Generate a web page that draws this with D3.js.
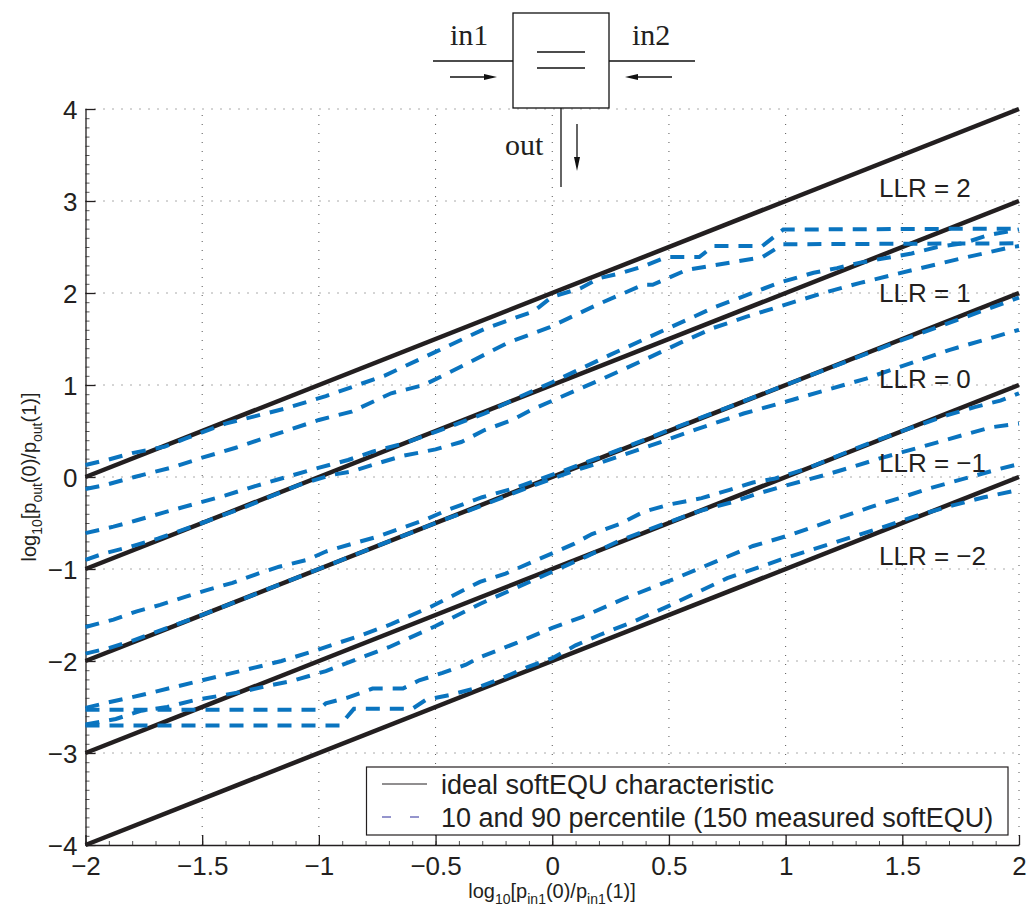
<!DOCTYPE html>
<html>
<head>
<meta charset="utf-8">
<script src="https://cdn.jsdelivr.net/npm/d3@7"></script>
<style>
  body { margin: 0; background: #fff; }
  svg { display: block; }
  text { font-family: "Liberation Sans", Arial, sans-serif; fill: #231f20; }
</style>
</head>
<body>
<div id="chart"></div>
<script>
// ---- data ----
const xTicks = [-2, -1.5, -1, -0.5, 0, 0.5, 1, 1.5, 2];
const yTicks = [-4, -3, -2, -1, 0, 1, 2, 3, 4];
const llrValues = [2, 1, 0, -1, -2];
const llrLabelY = [3.04, 1.9, 0.97, 0.05, -0.96];   // baseline of each "LLR = c" label (data units)
const llrLabelX = 1.4;
// ideal softEQU characteristic, y at x = -2 and x = 2
const idealX = [-2, 2];
const idealY = [[0, 4], [-1, 3], [-2, 2], [-3, 1], [-4, 0]];

// measured 10 / 90 percentile curves, [x, y]
const pctLLR2hi = [[-2,0.13],[-1.9,0.19],[-1.8,0.26],[-1.66,0.33],[-1.57,0.42],[-1.4,0.58],[-1.15,0.74],[-0.97,0.88],[-0.72,1.1],[-0.5,1.36],[-0.29,1.61],[-0.16,1.73],[-0.08,1.8],[0,1.96],[0.12,2.05],[0.2,2.16],[0.3,2.22],[0.39,2.29],[0.49,2.39],[0.63,2.39],[0.69,2.51],[0.9,2.51],[0.99,2.69],[2,2.7]];
const pctLLR2lo = [[-2,-0.13],[-1.92,-0.09],[-1.79,0.0],[-1.62,0.11],[-1.5,0.21],[-1.36,0.315],[-1.19,0.46],[-1.0,0.62],[-0.86,0.71],[-0.69,0.91],[-0.55,1.0],[-0.375,1.22],[-0.19,1.46],[-0.01,1.63],[0.19,1.87],[0.39,2.09],[0.43,2.09],[0.575,2.25],[0.69,2.3],[0.9,2.39],[0.99,2.53],[2,2.54]];
const pctLLR1hi = [[-2,-0.61],[-1.88,-0.54],[-1.78,-0.47],[-1.67,-0.39],[-1.5,-0.27],[-1.4,-0.2],[-1.3,-0.12],[-1.18,-0.03],[-1.03,0.08],[-0.875,0.185],[-0.77,0.275],[-0.63,0.37],[-0.5,0.49],[-0.29,0.69],[-0.15,0.86],[0,1.03],[0.25,1.33],[0.5,1.62],[0.7,1.85],[0.8,1.945],[0.97,2.11],[1.12,2.22],[1.22,2.27],[1.32,2.33],[1.43,2.38],[1.54,2.43],[1.65,2.5],[1.76,2.54],[1.87,2.63],[2,2.69]];
const pctLLR1lo = [[-2,-0.9],[-1.92,-0.83],[-1.81,-0.76],[-1.69,-0.67],[-1.5,-0.5],[-1.31,-0.32],[-1.09,-0.09],[-0.95,0.02],[-0.86,0.06],[-0.76,0.14],[-0.64,0.23],[-0.5,0.3],[-0.39,0.38],[-0.29,0.51],[-0.17,0.62],[-0.09,0.73],[0.2,1.05],[0.4,1.28],[0.55,1.46],[0.69,1.62],[0.83,1.74],[1.02,1.89],[1.16,2.0],[1.32,2.11],[1.545,2.25],[1.76,2.38],[1.97,2.5],[2,2.51]];
const pctLLR0hi = [[-2,-1.63],[-1.88,-1.55],[-1.78,-1.46],[-1.68,-1.39],[-1.57,-1.3],[-1.48,-1.23],[-1.37,-1.15],[-1.25,-1.04],[-1.17,-0.975],[-1.05,-0.9],[-0.97,-0.81],[-0.85,-0.72],[-0.75,-0.65],[-0.64,-0.55],[-0.55,-0.47],[-0.45,-0.36],[-0.3,-0.22],[-0.16,-0.12],[0.05,0.07],[0.2,0.21],[0.5,0.51],[1,1.0],[1.5,1.49],[2,1.95]];
const pctLLR0lo = [[-2,-1.92],[-1.9,-1.86],[-1.8,-1.78],[-1.5,-1.5],[-1.0,-1.0],[-0.5,-0.5],[-0.3,-0.31],[-0.09,-0.1],[0.12,0.09],[0.2,0.15],[0.42,0.34],[0.62,0.52],[0.82,0.69],[1.03,0.84],[1.345,1.07],[1.7,1.38],[2,1.6]];
const pctLLRm1hi = [[-2,-2.51],[-1.92,-2.46],[-1.76,-2.37],[-1.5,-2.21],[-1.32,-2.1],[-1.16,-2.0],[-1.02,-1.89],[-0.83,-1.73],[-0.69,-1.6],[-0.52,-1.41],[-0.31,-1.14],[-0.2,-1.05],[0.09,-0.73],[0.17,-0.62],[0.29,-0.51],[0.39,-0.38],[0.5,-0.3],[0.64,-0.23],[0.76,-0.14],[0.86,-0.06],[0.95,-0.02],[1.09,0.09],[1.31,0.32],[1.5,0.5],[1.69,0.67],[1.81,0.76],[1.92,0.83],[2,0.91]];
const pctLLRm1lo = [[-2,-2.69],[-1.87,-2.63],[-1.76,-2.54],[-1.65,-2.5],[-1.54,-2.43],[-1.43,-2.38],[-1.32,-2.33],[-1.22,-2.27],[-1.12,-2.22],[-0.97,-2.11],[-0.8,-1.945],[-0.7,-1.85],[-0.5,-1.62],[-0.31,-1.38],[0,-1.03],[0.15,-0.86],[0.29,-0.69],[0.5,-0.49],[0.63,-0.37],[0.77,-0.275],[0.875,-0.185],[0.99,-0.1],[1.18,0.03],[1.3,0.12],[1.4,0.2],[1.5,0.27],[1.67,0.39],[1.78,0.47],[1.88,0.54],[2,0.58]];
const pctLLRm2hi = [[-2,-2.53],[-1.0,-2.53],[-0.97,-2.46],[-0.88,-2.4],[-0.77,-2.3],[-0.64,-2.3],[-0.57,-2.21],[-0.47,-2.13],[-0.37,-2.04],[-0.31,-1.96],[-0.15,-1.8],[0,-1.64],[0.13,-1.52],[0.3,-1.33],[0.53,-1.1],[0.7,-0.92],[0.86,-0.75],[1.02,-0.63],[1.2,-0.47],[1.36,-0.33],[1.5,-0.22],[1.62,-0.12],[1.79,0.0],[1.92,0.09],[2,0.14]];
const pctLLRm2lo = [[-2,-2.7],[-0.91,-2.7],[-0.85,-2.52],[-0.6,-2.52],[-0.54,-2.42],[-0.44,-2.37],[-0.32,-2.29],[-0.2,-2.17],[-0.1,-2.06],[0,-1.97],[0.1,-1.83],[0.2,-1.72],[0.35,-1.57],[0.5,-1.4],[0.6,-1.28],[0.75,-1.1],[1.0,-0.88],[1.2,-0.72],[1.4,-0.56],[1.55,-0.43],[1.7,-0.32],[1.85,-0.22],[2,-0.14]];
const pctCurves = [pctLLR2hi, pctLLR2lo, pctLLR1hi, pctLLR1lo, pctLLR0hi, pctLLR0lo,
                   pctLLRm1hi, pctLLRm1lo, pctLLRm2hi, pctLLRm2lo];

const legendItems = ["ideal softEQU characteristic", "10 and 90 percentile (150 measured softEQU)"];

// ---- layout ----
const W = 1029, H = 906;
const x = d3.scaleLinear().domain([-2, 2]).range([85.5, 1019]);
const y = d3.scaleLinear().domain([-4, 4]).range([845, 109]);
const ink = "#231f20", blue = "#0a74bf";
const fmt = d => String(d).replace("-", "\u2212");

const svg = d3.select("#chart").append("svg")
    .attr("width", W).attr("height", H)
    .attr("viewBox", [0, 0, W, H]);

// grid
const grid = svg.append("g").attr("stroke", "#555").attr("stroke-width", 1)
    .attr("stroke-dasharray", "1,8");
grid.selectAll("line.gx").data(xTicks.slice(1)).join("line")
    .attr("x1", d => x(d)).attr("x2", d => x(d))
    .attr("y1", y(-4)).attr("y2", y(4));
grid.selectAll("line.gy").data(yTicks.slice(1)).join("line")
    .attr("y1", d => y(d)).attr("y2", d => y(d))
    .attr("x1", x(-2)).attr("x2", x(2));

// minor ticks
const xMinor = d3.range(-2, 2.001, 0.1).map(v => +v.toFixed(2));
const yMinor = d3.range(-4, 4.001, 0.1).map(v => +v.toFixed(2));
svg.append("g").attr("transform", `translate(0,${y(-4)})`)
    .call(d3.axisBottom(x).tickValues(xMinor).tickSize(-4).tickFormat(""))
    .call(g => g.select(".domain").remove())
    .call(g => g.selectAll("line").attr("stroke", "#555"));
svg.append("g").attr("transform", `translate(${x(-2)},0)`)
    .call(d3.axisLeft(y).tickValues(yMinor).tickSize(-4).tickFormat(""))
    .call(g => g.select(".domain").remove())
    .call(g => g.selectAll("line").attr("stroke", "#555"));

// major axes
const xAxis = svg.append("g").attr("transform", `translate(0,${y(-4)})`)
    .call(d3.axisBottom(x).tickValues(xTicks).tickSize(-10).tickSizeOuter(0).tickPadding(12).tickFormat(fmt));
const yAxis = svg.append("g").attr("transform", `translate(${x(-2)},0)`)
    .call(d3.axisLeft(y).tickValues(yTicks).tickSize(-10).tickSizeOuter(0).tickPadding(8).tickFormat(fmt));
[xAxis, yAxis].forEach(g => {
  g.select(".domain").attr("stroke", ink).attr("stroke-width", 1.3);
  g.selectAll(".tick line").attr("stroke", ink).attr("stroke-width", 1.3);
  g.selectAll(".tick text").attr("fill", ink).style("font-size", "26px")
    .style("font-family", '"Liberation Sans", Arial, sans-serif');
});
xAxis.selectAll(".tick text").attr("dy", "0.71em");
yAxis.selectAll(".tick text").attr("dy", "0.36em");

// ideal lines
const line = d3.line().x(d => x(d[0])).y(d => y(d[1]));
svg.append("g").selectAll("path").data(idealY).join("path")
    .attr("d", d => line(idealX.map((xv, i) => [xv, d[i]])))
    .attr("fill", "none").attr("stroke", ink).attr("stroke-width", 4.5);

// percentile curves
svg.append("g").selectAll("path").data(pctCurves).join("path")
    .attr("d", line)
    .attr("fill", "none").attr("stroke", blue).attr("stroke-width", 4)
    .attr("stroke-dasharray", "14,10");

// LLR labels
svg.append("g").selectAll("text").data(llrValues).join("text")
    .attr("x", x(llrLabelX)).attr("y", (d, i) => y(llrLabelY[i]))
    .style("font-size", "26px")
    .text(d => "LLR = " + fmt(d));

// legend
const lg = svg.append("g");
lg.append("rect").attr("x", 366.5).attr("y", 767).attr("width", 641.5).attr("height", 68)
    .attr("fill", "#fff").attr("stroke", ink).attr("stroke-width", 1.2);
legendItems.forEach((t, i) => {
  const ly = 784 + i * 33;
  lg.append("line").attr("x1", 382).attr("x2", i ? 420 : 427).attr("y1", ly).attr("y2", ly)
    .attr("stroke", i ? "#2b2b9a" : ink).attr("stroke-width", 1)
    .attr("stroke-dasharray", i ? "9,19" : null);
  lg.append("text").attr("x", 441).attr("y", ly).attr("dy", "0.36em")
    .style("font-size", "27px").text(t);
});

// axis titles
const xt = svg.append("text").attr("x", 552).attr("y", 898)
    .attr("text-anchor", "middle").style("font-size", "20px");
xt.append("tspan").text("log");
xt.append("tspan").attr("dy", 6).style("font-size", "14px").text("10");
xt.append("tspan").attr("dy", -6).text("[p");
xt.append("tspan").attr("dy", 6).style("font-size", "14px").text("in1");
xt.append("tspan").attr("dy", -6).text("(0)/p");
xt.append("tspan").attr("dy", 6).style("font-size", "14px").text("in1");
xt.append("tspan").attr("dy", -6).text("(1)]");

const yt = svg.append("text").attr("transform", `translate(36,${y(0)}) rotate(-90)`)
    .attr("text-anchor", "middle").style("font-size", "20px");
yt.append("tspan").text("log");
yt.append("tspan").attr("dy", 6).style("font-size", "14px").text("10");
yt.append("tspan").attr("dy", -6).text("[p");
yt.append("tspan").attr("dy", 6).style("font-size", "14px").text("out");
yt.append("tspan").attr("dy", -6).text("(0)/p");
yt.append("tspan").attr("dy", 6).style("font-size", "14px").text("out");
yt.append("tspan").attr("dy", -6).text("(1)]");

// softEQU block diagram
const dg = svg.append("g").attr("stroke", "#111").attr("stroke-width", 1.3).attr("fill", "none");
dg.append("rect").attr("x", 513).attr("y", 13).attr("width", 96).attr("height", 95).attr("fill", "#fff");
dg.append("line").attr("x1", 433).attr("x2", 513).attr("y1", 61).attr("y2", 61);
dg.append("line").attr("x1", 609).attr("x2", 695).attr("y1", 61).attr("y2", 61);
dg.append("line").attr("x1", 537).attr("x2", 585).attr("y1", 52).attr("y2", 52);
dg.append("line").attr("x1", 537).attr("x2", 585).attr("y1", 68).attr("y2", 68);
dg.append("line").attr("x1", 561).attr("x2", 561).attr("y1", 108).attr("y2", 187);
dg.append("line").attr("x1", 450).attr("x2", 490).attr("y1", 77).attr("y2", 77);
dg.append("line").attr("x1", 632).attr("x2", 672).attr("y1", 77).attr("y2", 77);
dg.append("line").attr("x1", 577).attr("x2", 577).attr("y1", 124).attr("y2", 160);
const heads = [
  [[484, 74], [497, 77], [484, 80]],
  [[638, 74], [625, 77], [638, 80]],
  [[574, 157], [577, 171], [580, 157]]
];
dg.selectAll("path.head").data(heads).join("path")
    .attr("d", d => "M" + d.join("L") + "Z").attr("fill", "#111").attr("stroke", "none");
const serif = '"Liberation Serif", "Times New Roman", serif';
svg.append("text").attr("x", 450).attr("y", 45).style("font-family", serif).style("font-size", "30px").text("in1");
svg.append("text").attr("x", 632).attr("y", 45).style("font-family", serif).style("font-size", "30px").text("in2");
svg.append("text").attr("x", 505).attr("y", 155).style("font-family", serif).style("font-size", "30px").text("out");
</script>
</body>
</html>
